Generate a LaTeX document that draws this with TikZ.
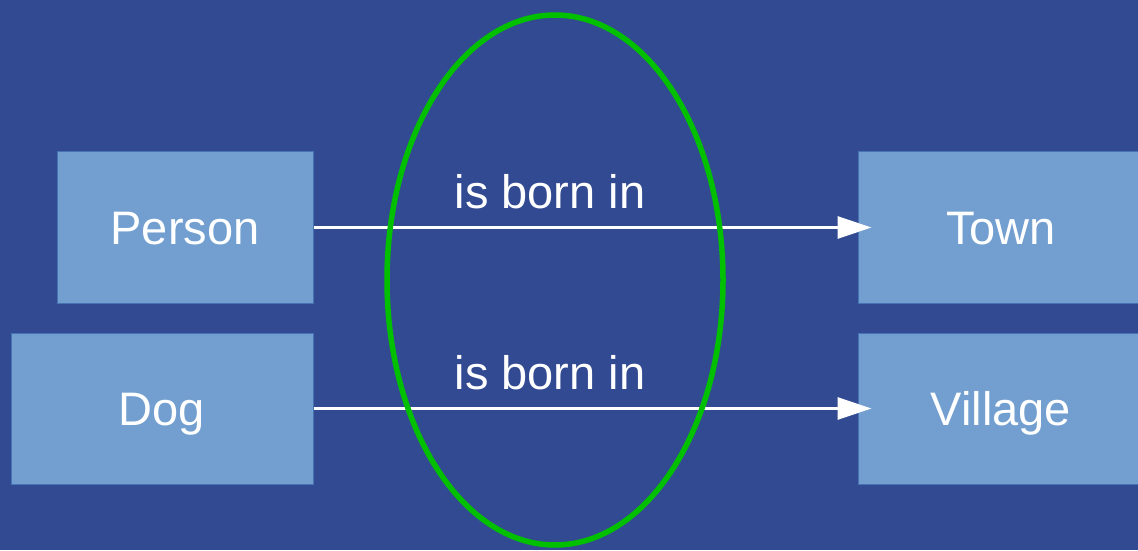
\documentclass[tikz,border=0pt]{standalone}
\usepackage{fontspec}
\setmainfont{Liberation Sans}
\usetikzlibrary{arrows.meta}
\definecolor{bgblue}{RGB}{50,74,145}
\definecolor{boxfill}{RGB}{114,159,207}
\definecolor{boxline}{RGB}{70,115,180}
\definecolor{ringgreen}{RGB}{0,192,0}
\begin{document}
\begin{tikzpicture}[x=1pt,y=1pt,
  entity/.style={draw=boxline, line width=1pt, fill=boxfill, text=white,
    minimum height=151pt, inner sep=0pt, text height=34pt, text depth=0pt,
    font=\fontsize{47}{56}\selectfont},
  relarrow/.style={draw=white, line width=3pt, -{Triangle[length=34pt,width=22pt]}},
  rellabel/.style={text=white, anchor=base, inner sep=0pt, yshift=19pt,
    font=\fontsize{47}{56}\selectfont},
  ring/.style={draw=ringgreen, line width=5.5pt}]
  \useasboundingbox (0,0) rectangle (1138,550);
  \clip (0,0) rectangle (1138,550);
  \fill[bgblue] (0,0) rectangle (1138,550);
  \node[entity, minimum width=256pt] (person) at (185,322.5) {Person};
  \node[entity, minimum width=302pt] (dog) at (162,141.5) {Dog};
  \node[entity, minimum width=286pt] (town) at (1001,322.5) {Town};
  \node[entity, minimum width=286pt] (village) at (1001,141.5) {Village};
  \draw[relarrow] (person.east) -- node[rellabel, pos=0.424] {is born in} ([xshift=14pt]town.west);
  \draw[relarrow] (dog.east) -- node[rellabel, pos=0.424] {is born in} ([xshift=14pt]village.west);
  \coordinate (ringc) at (555,270);
  \draw[ring] (ringc) ellipse [x radius=168pt, y radius=265pt];
\end{tikzpicture}
\end{document}
